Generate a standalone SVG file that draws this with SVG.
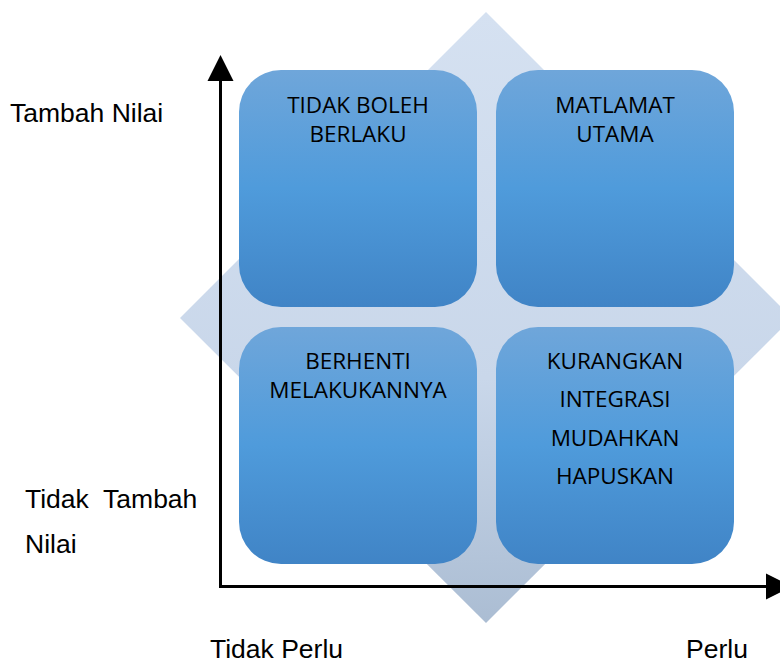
<svg xmlns="http://www.w3.org/2000/svg" width="780" height="664" viewBox="0 0 780 664">
<defs>
<linearGradient id="dg" x1="0" y1="0" x2="0" y2="1">
<stop offset="0" stop-color="#d5e1f1"/>
<stop offset="0.6" stop-color="#c9d7ea"/>
<stop offset="1" stop-color="#abbdd3"/>
</linearGradient>
<linearGradient id="bg" x1="0" y1="0" x2="0" y2="1">
<stop offset="0" stop-color="#6fa6da"/>
<stop offset="0.5" stop-color="#4f9bdb"/>
<stop offset="1" stop-color="#4084c6"/>
</linearGradient>
<style>
.box{fill:url(#bg);}
.bt{font-family:"Open Sans","Noto Sans",sans-serif;font-size:22.5px;fill:#000;text-anchor:middle;}
.ax{font-family:"Liberation Sans",Arial,sans-serif;font-size:26.5px;fill:#000;}
.axis{stroke:#000;stroke-width:3;fill:none;}
</style>
</defs>
<polygon id="diamond" points="486,12 792,318 486,623 180,318" fill="url(#dg)"/>
<g id="node-tl"><rect class="box" x="239" y="70" width="238" height="237" rx="42"/>
<text class="bt" x="358" y="113">TIDAK BOLEH</text><text class="bt" x="358" y="142">BERLAKU</text></g>
<g id="node-tr"><rect class="box" x="496" y="70" width="238" height="237" rx="42"/>
<text class="bt" x="615" y="113">MATLAMAT</text><text class="bt" x="615" y="142">UTAMA</text></g>
<g id="node-bl"><rect class="box" x="239" y="327" width="238" height="237" rx="42"/>
<text class="bt" x="358" y="369">BERHENTI</text><text class="bt" x="358" y="398">MELAKUKANNYA</text></g>
<g id="node-br"><rect class="box" x="496" y="327" width="238" height="237" rx="42"/>
<text class="bt" x="615" y="369">KURANGKAN</text><text class="bt" x="615" y="407">INTEGRASI</text><text class="bt" x="615" y="446">MUDAHKAN</text><text class="bt" x="615" y="484">HAPUSKAN</text></g>
<g id="connectors">
<path class="axis" d="M220.5,587 V80"/>
<polygon points="220.5,55 207.5,81 233.5,81" fill="#000"/>
<path class="axis" d="M219,586.5 H767"/>
<polygon points="792,586.5 766,573.5 766,599.5" fill="#000"/>
</g>
<g id="labels">
<text class="ax" x="10" y="122">Tambah Nilai</text>
<text class="ax" x="25" y="508" xml:space="preserve">Tidak  Tambah</text>
<text class="ax" x="25" y="553">Nilai</text>
<text class="ax" x="210" y="658">Tidak Perlu</text>
<text class="ax" x="686" y="658">Perlu</text>
</g>
</svg>
